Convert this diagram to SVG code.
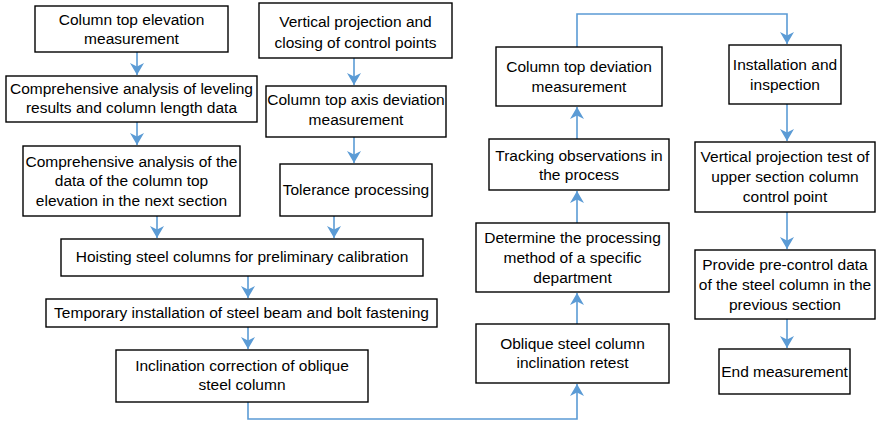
<svg xmlns="http://www.w3.org/2000/svg" width="876" height="422" viewBox="0 0 876 422">
<style>
.b{fill:#fff;stroke:#000;stroke-width:1.4}
.t{font-family:"Liberation Sans",Arial,sans-serif;font-size:15.5px;fill:#000;text-anchor:middle}
.c{fill:none;stroke:#5b9bd5;stroke-width:1.6}
</style>
<defs>
<marker id="ah" markerUnits="userSpaceOnUse" markerWidth="16" markerHeight="16" viewBox="-1 -8 15 16" refX="12" refY="0" orient="auto">
<path d="M0,-7 L12,0 L0,7 L3.5,0 z" fill="#5b9bd5"/>
</marker>
</defs>
<rect width="876" height="422" fill="#fff"/>
<g id="connectors">
<path class="c" d="M137,52 V75" marker-end="url(#ah)"/>
<path class="c" d="M137,122 V145" marker-end="url(#ah)"/>
<path class="c" d="M354,58 V85" marker-end="url(#ah)"/>
<path class="c" d="M354,137 V163" marker-end="url(#ah)"/>
<path class="c" d="M157,216 V238" marker-end="url(#ah)"/>
<path class="c" d="M334,216 V238" marker-end="url(#ah)"/>
<path class="c" d="M248,276 V298" marker-end="url(#ah)"/>
<path class="c" d="M248,327 V349" marker-end="url(#ah)"/>
<path class="c" d="M248,402 V419 H577 V384" marker-end="url(#ah)"/>
<path class="c" d="M577,324 V293" marker-end="url(#ah)"/>
<path class="c" d="M577,223 V191" marker-end="url(#ah)"/>
<path class="c" d="M577,139 V107" marker-end="url(#ah)"/>
<path class="c" d="M577,47 V14 H787 V44" marker-end="url(#ah)"/>
<path class="c" d="M787,104 V141" marker-end="url(#ah)"/>
<path class="c" d="M787,212 V249" marker-end="url(#ah)"/>
<path class="c" d="M787,319 V348" marker-end="url(#ah)"/>
</g>
<g id="n1"><rect class="b" x="35" y="6" width="193" height="46"/><text class="t" x="131.5" y="25">Column top elevation</text><text class="t" x="131.5" y="44">measurement</text></g>
<g id="n2"><rect class="b" x="6" y="76" width="251" height="46"/><text class="t" x="131.5" y="94">Comprehensive analysis of leveling</text><text class="t" x="131.5" y="113">results and column length data</text></g>
<g id="n3"><rect class="b" x="23" y="146" width="217" height="70"/><text class="t" x="131.5" y="167">Comprehensive analysis of the</text><text class="t" x="131.5" y="186">data of the column top</text><text class="t" x="131.5" y="206">elevation in the next section</text></g>
<g id="n4"><rect class="b" x="259" y="3" width="193" height="55"/><text class="t" x="355.5" y="27">Vertical projection and</text><text class="t" x="355.5" y="48">closing of control points</text></g>
<g id="n5"><rect class="b" x="266" y="86" width="180" height="51"/><text class="t" x="356" y="105">Column top axis deviation</text><text class="t" x="356" y="125">measurement</text></g>
<g id="n6"><rect class="b" x="280" y="164" width="152" height="52"/><text class="t" x="356" y="195">Tolerance processing</text></g>
<g id="n7"><rect class="b" x="61" y="239" width="362" height="37"/><text class="t" x="242" y="262">Hoisting steel columns for preliminary calibration</text></g>
<g id="n8"><rect class="b" x="46" y="299" width="391" height="28"/><text class="t" x="241.5" y="318">Temporary installation of steel beam and bolt fastening</text></g>
<g id="n9"><rect class="b" x="116" y="350" width="252" height="52"/><text class="t" x="242" y="371">Inclination correction of oblique</text><text class="t" x="242" y="390">steel column</text></g>
<g id="n10"><rect class="b" x="476" y="324" width="193" height="59"/><text class="t" x="572.5" y="349">Oblique steel column</text><text class="t" x="572.5" y="368">inclination retest</text></g>
<g id="n11"><rect class="b" x="476" y="223" width="193" height="69"/><text class="t" x="572.5" y="243">Determine the processing</text><text class="t" x="572.5" y="263">method of a specific</text><text class="t" x="572.5" y="283">department</text></g>
<g id="n12"><rect class="b" x="489" y="139" width="180" height="51"/><text class="t" x="579" y="161">Tracking observations in</text><text class="t" x="579" y="180">the process</text></g>
<g id="n13"><rect class="b" x="496" y="47" width="166" height="59"/><text class="t" x="579" y="72">Column top deviation</text><text class="t" x="579" y="92">measurement</text></g>
<g id="n14"><rect class="b" x="729" y="45" width="112" height="59"/><text class="t" x="785" y="70">Installation and</text><text class="t" x="785" y="90">inspection</text></g>
<g id="n15"><rect class="b" x="695" y="142" width="180" height="70"/><text class="t" x="785" y="162">Vertical projection test of</text><text class="t" x="785" y="182">upper section column</text><text class="t" x="785" y="202">control point</text></g>
<g id="n16"><rect class="b" x="695" y="250" width="180" height="69"/><text class="t" x="785" y="270">Provide pre-control data</text><text class="t" x="785" y="290">of the steel column in the</text><text class="t" x="785" y="310">previous section</text></g>
<g id="n17"><rect class="b" x="719" y="349" width="131" height="45"/><text class="t" x="784.5" y="377">End measurement</text></g>
</svg>
